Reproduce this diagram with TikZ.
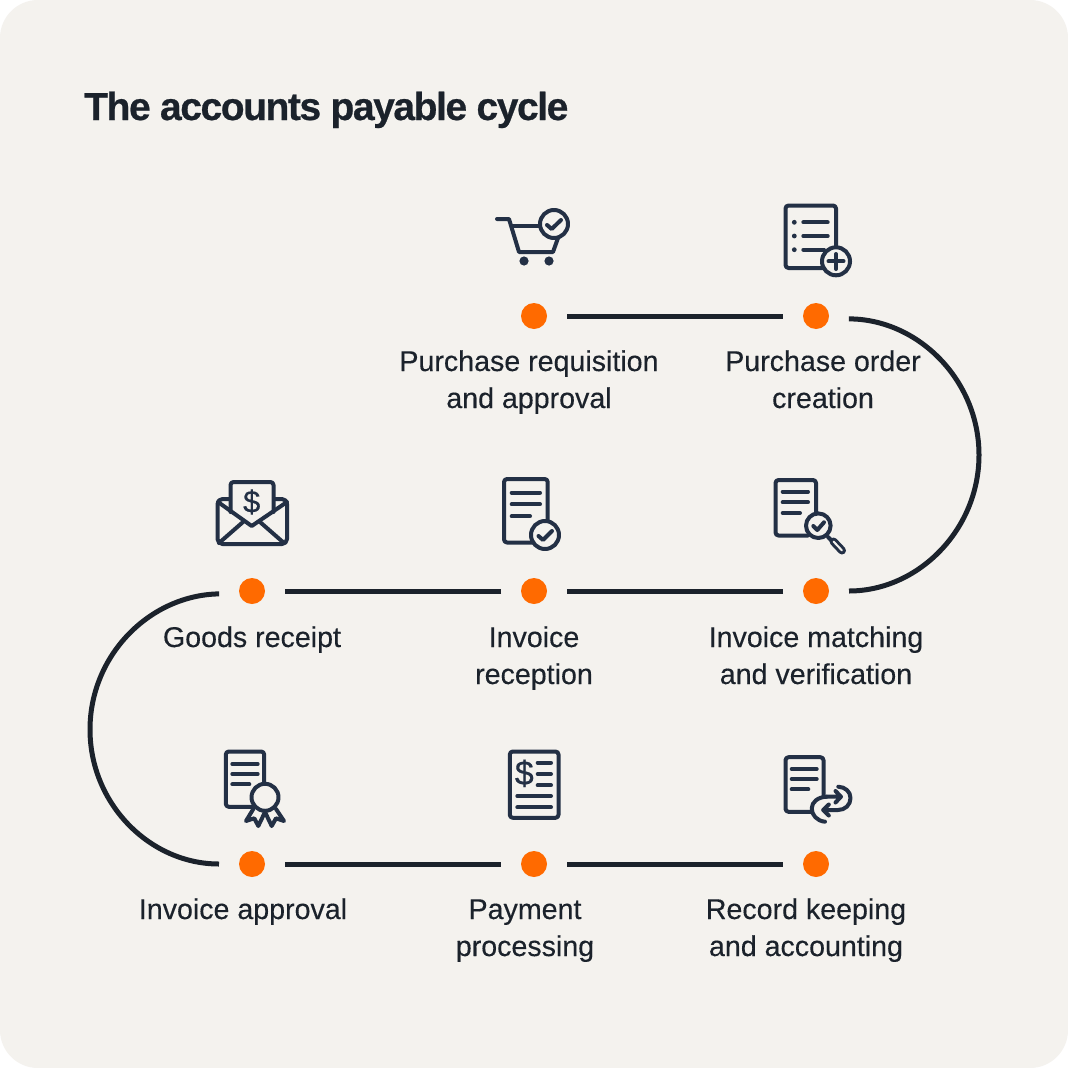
\documentclass[tikz,border=0pt]{standalone}
\usepackage{fontspec}
\setmainfont{Liberation Sans}
\newfontfamily\labfont[FakeBold=0.28]{Liberation Sans}
\newfontfamily\titlefont[LetterSpace=-3.7,FakeBold=0.6]{Liberation Sans Bold}
\newfontfamily\dolfont[FakeBold=0.25]{Liberation Sans}
\definecolor{bgc}{HTML}{F4F2EE}
\definecolor{inkc}{HTML}{1B222B}
\definecolor{iconc}{HTML}{233045}
\definecolor{dotc}{HTML}{FF6A00}
\tikzset{
  dotn/.style={circle,fill=dotc,inner sep=0pt,minimum size=26pt,outer sep=20pt},
  conn/.style={draw=inkc,line width=5pt},
  lab/.style={text=inkc,align=center,anchor=base,font=\labfont\fontsize{28.6}{37}\selectfont},
  ico/.style={draw=iconc,line width=4pt,line cap=round,line join=round},
  icf/.style={ico,fill=bgc},
  dol/.style={text=iconc,inner sep=0pt,font=\dolfont\fontsize{31}{31}\selectfont},
}
\begin{document}
\begin{tikzpicture}[x=1pt,y=-1pt]
\useasboundingbox (0,0) rectangle (1068,1068);
\fill[white] (0,0) rectangle (1068,1068);
\fill[bgc,rounded corners=38pt] (0,0) rectangle (1068,1068);
\node[anchor=base west,text=inkc,inner sep=0pt,font=\titlefont\fontsize{39}{42}\selectfont] (title) at (84,120) {The accounts payable cycle};
% dots
\node[dotn] (d1) at (534,316) {};
\node[dotn] (d2) at (816,316) {};
\node[dotn] (d3) at (816,591) {};
\node[dotn] (d4) at (534,591) {};
\node[dotn] (d5) at (252,591) {};
\node[dotn] (d6) at (252,864) {};
\node[dotn] (d7) at (534,864) {};
\node[dotn] (d8) at (816,864) {};
% connectors
\draw[conn] (d1) -- (d2);
\draw[conn] (d2.-5) .. controls (918,319) and (979,380) .. (979,455) .. controls (979,530) and (918,591) .. (d3.east);
\draw[conn] (d3) -- (d4);
\draw[conn] (d4) -- (d5);
\draw[conn] (d5.185) .. controls (150,595) and (90,655) .. (90,729.5) .. controls (90,804) and (150,864) .. (d6.west);
\draw[conn] (d6) -- (d7);
\draw[conn] (d7) -- (d8);
% labels
\node[lab] (l1) at (529,408) {Purchase requisition\\and approval};
\node[lab] (l2) at (823,408) {Purchase order\\creation};
\node[lab] (l3) at (816,684) {Invoice matching\\and verification};
\node[lab] (l4) at (534,684) {Invoice\\reception};
\node[lab] (l5) at (252,647) {Goods receipt};
\node[lab] (l6) at (243,919) {Invoice approval};
\node[lab] (l7) at (525,956) {Payment\\processing};
\node[lab] (l8) at (806,956) {Record keeping\\and accounting};
% cart
\draw[ico] (497,219) -- (509,219) -- (519,252) -- (553,252) -- (558,238);
\draw[ico] (512,226) -- (539,226);
\draw[ico] (554,224) circle (14);
\draw[ico] (547,225) -- (551.7,229) -- (561,220);
\fill[iconc] (524,261) circle (4.6) (549,261) circle (4.6);
% doc plus
\draw[ico,rounded corners=3pt] (836,250) -- (836,205.5) -- (785.5,205.5) -- (785.5,268) -- (824,268);
\draw[ico] (803.3,222.3) -- (827.7,222.3) (803.3,236) -- (827.7,236) (803.3,249.7) -- (824,249.7);
\fill[iconc] (794.3,222.3) circle (2.4) (794.3,236) circle (2.4) (794.3,249.7) circle (2.4);
\draw[icf] (836,261.3) circle (14);
\draw[ico] (828.5,261.3) -- (843.5,261.3) (836,254) -- (836,269);
% envelope
\draw[ico,rounded corners=5pt] (217.5,499) rectangle (287,544);
\fill[bgc] (230.5,482) -- (273.5,482) -- (273.5,512) -- (251.7,526) -- (230.5,512) -- cycle;
\draw[ico,rounded corners=3pt] (230.5,512) -- (230.5,482) -- (273.5,482) -- (273.5,512);
\draw[ico] (218,502) -- (251.7,526) -- (287,502);
\draw[ico] (219,543) -- (243,522) (260,522) -- (284,543);
\node[dol] (dollar1) at (251.7,502) {\$};
% doc check
\draw[ico,rounded corners=3pt] (547.7,525) -- (547.7,479) -- (504,479) -- (504,542.5) -- (534,542.5);
\draw[ico] (511.7,492.7) -- (540,492.7) (511.7,504.3) -- (540,504.3) (511.7,516.3) -- (530,516.3);
\draw[icf] (545,535) circle (14);
\draw[ico] (538.5,536) -- (543,540) -- (552,531);
% doc search
\draw[ico,rounded corners=3pt] (816,515) -- (816,480) -- (775.5,480) -- (775.5,535.5) -- (808,535.5);
\draw[ico] (782.7,491.7) -- (808,491.7) (782.7,502.3) -- (808,502.3) (782.7,513) -- (800,513);
\draw[icf] (818.3,525.7) circle (12.3);
\draw[ico] (813.3,526) -- (817.3,530) -- (824,522.3);
\draw[ico] (828,537) -- (832,541);
\draw[iconc,line width=8pt,line cap=round] (833.5,541.5) -- (842,550.5);
\draw[bgc,line width=2pt,line cap=round] (833.5,541.5) -- (842,550.5);
% cert
\draw[ico,rounded corners=3pt] (264.2,785) -- (264.2,751.5) -- (225.8,751.5) -- (225.8,806.8) -- (252,806.8);
\draw[ico] (232.3,764) -- (257.7,764) (232.3,774) -- (257.7,774) (232.3,784.3) -- (249.3,784.3);
\draw[icf] (265,797.3) circle (13.5);
\draw[ico] (253.3,809) -- (246,821) -- (254.3,818.3) -- (258.3,826) -- (265,812) -- (271.7,826) -- (276,818.3) -- (284,821) -- (276,809);
% payment
\draw[ico,rounded corners=3pt] (509.8,751.5) rectangle (558.5,817.8);
\draw[ico] (537.7,762.7) -- (551,762.7) (537.7,774) -- (551,774) (537.7,785.3) -- (551,785.3);
\draw[ico] (517.3,796) -- (551,796) (517.3,807.3) -- (551,807.3);
\node[dol,font=\dolfont\fontsize{34}{34}\selectfont] (dollar2) at (524.3,773.3) {\$};
% record
\draw[ico,rounded corners=3pt] (823.5,796.7) -- (823.5,757.2) -- (785.5,757.2) -- (785.5,811.8) -- (811.7,811.8);
\draw[ico] (791.7,769) -- (816.7,769) (791.7,779) -- (816.7,779) (791.7,789.3) -- (808.3,789.3);
\fill[bgc] (813,799) rectangle (827,818);
\draw[ico] (826.7,796.7) .. controls (818,797) and (811.7,802) .. (811.7,808.5) .. controls (811.7,815) and (817,821) .. (825,821.7);
\draw[ico] (838.3,786.7) .. controls (845,787) and (850.5,791.5) .. (850.5,798) .. controls (850.5,805) and (845,810) .. (838,810) -- (823.3,810);
\draw[ico] (826.7,796.7) -- (841,796.7) (835.5,791) -- (841,796.7) -- (835.5,802.5);
\draw[ico] (828.8,804.5) -- (823.3,810) -- (828.8,815.5);
\end{tikzpicture}
\end{document}
